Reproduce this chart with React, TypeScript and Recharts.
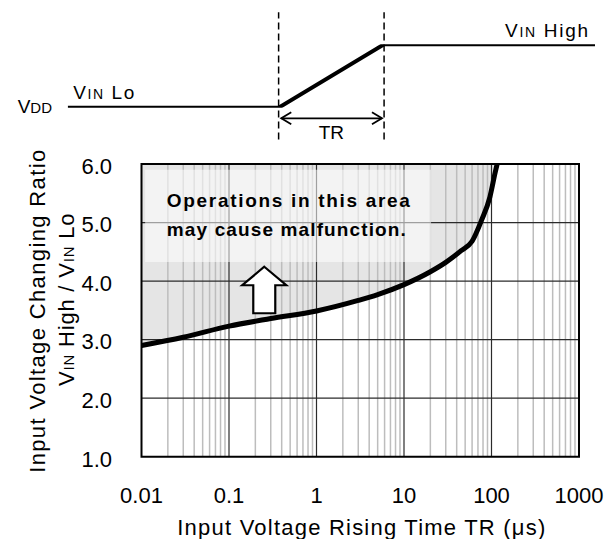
import React from "react";
import {
  ComposedChart,
  LineChart,
  Line,
  Area,
  XAxis,
  YAxis,
  ReferenceLine,
  ReferenceArea,
  ReferenceDot
} from "recharts";

// curve: input voltage rising time (us) vs. allowed VIN High / VIN Lo ratio
const TR_US = [0.01, 0.03, 0.1, 0.3, 1, 3, 5, 10, 20, 30, 45, 60, 77, 96, 110, 116];
const RATIO = [2.9, 3.04, 3.23, 3.36, 3.49, 3.67, 3.77, 3.94, 4.16, 4.32, 4.52, 4.68, 5.04, 5.44, 5.85, 6.0];

const X_TICKS = [0.01, 0.1, 1, 10, 100, 1000];
const Y_TICKS = [1, 2, 3, 4, 5, 6];
const DECADES = [0.01, 0.1, 1, 10, 100];
const MINOR_STEPS = [2, 3, 4, 5, 6, 7, 8, 9];
const MAJOR_X = [0.1, 1, 10, 100];
const MAJOR_Y = [2, 3, 4, 5];

// timing diagram above the chart (arbitrary time units, 0 = low, 1 = high)
const WAVE_T = [0, 40, 60, 100];
const WAVE_LEVEL = [0, 0, 1, 1];
const EDGE_T = [40, 60];
const TR_ARROW_Y = -0.167;

const FONT = '"Liberation Sans", Arial, sans-serif';

const curveData = TR_US.map((tr, i) => ({ tr, ratio: RATIO[i], band: [RATIO[i], 6] }));
const waveData = WAVE_T.map((t, i) => ({ t, v: WAVE_LEVEL[i] }));
const minorX = DECADES.flatMap((d) => MINOR_STEPS.map((k) => Number((d * k).toPrecision(3))));

const renderXTitle = (props: any) => {
  const vb = props.viewBox || { x: 141.5, y: 456.7, width: 437.5, height: 82.3 };
  const cx = vb.x + vb.width / 2 + 1;
  return (
    <text
      x={cx}
      y={vb.y + 78.5}
      textAnchor="middle"
      fontFamily={FONT}
      fontSize={22}
      fill="#000"
      textLength={368}
      lengthAdjust="spacing"
    >
      Input Voltage Rising Time TR (μs)
    </text>
  );
};

const renderYTitle = (props: any) => {
  const vb = props.viewBox || { x: 0, y: 164, width: 141.5, height: 292.7 };
  const cy = vb.y + vb.height / 2;
  const x1 = vb.x + 37;
  const y1 = cy + 1;
  const x2 = vb.x + 66;
  const y2 = cy - 11;
  return (
    <g fontFamily={FONT} fill="#000">
      <text
        x={x1}
        y={y1}
        transform={`rotate(-90 ${x1} ${y1})`}
        textAnchor="middle"
        dy="0.36em"
        fontSize={22}
        textLength={323}
        lengthAdjust="spacing"
      >
        Input Voltage Changing Ratio
      </text>
      <text
        x={x2}
        y={y2}
        transform={`rotate(-90 ${x2} ${y2})`}
        textAnchor="middle"
        dy="0.36em"
        fontSize={22}
        letterSpacing={0.8}
      >
        V<tspan fontSize={15}>IN</tspan> High / V<tspan fontSize={15}>IN</tspan> Lo
      </text>
    </g>
  );
};

const renderBoxText = (props: any) => {
  const vb = props.viewBox || { x: 145, y: 170 };
  return (
    <g fontFamily={FONT} fontWeight="bold" fontSize={19} fill="#000">
      <text x={vb.x + 21.7} y={vb.y + 36.7} textLength={243} lengthAdjust="spacing">
        Operations in this area
      </text>
      <text x={vb.x + 21.7} y={vb.y + 66} textLength={239} lengthAdjust="spacing">
        may cause malfunction.
      </text>
    </g>
  );
};

const renderUpArrow = (props: any) => {
  const { cx, cy } = props;
  const pts = [
    [0, 0],
    [22, 18.5],
    [11, 18.5],
    [11, 46.5],
    [-11, 46.5],
    [-11, 18.5],
    [-22, 18.5]
  ]
    .map(([dx, dy]) => `${cx + dx},${cy + dy}`)
    .join(" ");
  return <polygon points={pts} fill="#fff" stroke="#000" strokeWidth={2.2} strokeLinejoin="miter" />;
};

const chevron = (dir: number) => (props: any) => {
  const { cx, cy } = props;
  const d = `M${cx + dir * 10},${cy - 6} L${cx},${cy} L${cx + dir * 10},${cy + 6}`;
  return <path d={d} fill="none" stroke="#000" strokeWidth={1.8} />;
};

const label = (content: React.ReactNode, dx: number, dy: number, anchor: string, len?: number) =>
  (props: any) => (
    <text
      x={props.cx + dx}
      y={props.cy + dy}
      textAnchor={anchor}
      fontFamily={FONT}
      fontSize={19}
      fill="#000"
      textLength={len}
      lengthAdjust={len ? "spacing" : undefined}
    >
      {content}
    </text>
  );

const TimingDiagram = () => (
  <LineChart
    width={608}
    height={164}
    data={waveData}
    margin={{ top: 44.3, right: 13, bottom: 56.3, left: 67.7 }}
  >
    <XAxis dataKey="t" type="number" domain={[0, 100]} hide allowDataOverflow />
    <YAxis type="number" domain={[0, 1]} hide allowDataOverflow />
    {EDGE_T.map((t) => (
      <ReferenceLine
        key={t}
        segment={[{ x: t, y: -0.5 }, { x: t, y: 1.505 }]}
        stroke="#000"
        strokeWidth={1.5}
        strokeDasharray="7 4"
        ifOverflow="visible"
      />
    ))}
    <Line
      dataKey="v"
      type="linear"
      stroke="#000"
      strokeWidth={4}
      dot={false}
      isAnimationActive={false}
    />
    <ReferenceLine
      segment={[{ x: 40.5, y: TR_ARROW_Y }, { x: 59.6, y: TR_ARROW_Y }]}
      stroke="#000"
      strokeWidth={1.8}
      ifOverflow="visible"
    />
    <ReferenceDot x={40.5} y={TR_ARROW_Y} r={0} ifOverflow="visible" shape={chevron(1)} />
    <ReferenceDot x={59.6} y={TR_ARROW_Y} r={0} ifOverflow="visible" shape={chevron(-1)} />
    <ReferenceDot
      x={50}
      y={TR_ARROW_Y}
      r={0}
      ifOverflow="visible"
      shape={label("TR", 0, 21, "middle")}
    />
    <ReferenceDot
      x={0}
      y={0}
      r={0}
      ifOverflow="visible"
      shape={label(<>V<tspan fontSize={15}>DD</tspan></>, -15.7, 5, "end")}
    />
    <ReferenceDot
      x={0}
      y={0}
      r={0}
      ifOverflow="visible"
      shape={label(<>V<tspan fontSize={14}>IN</tspan> Lo</>, 5.6, -8.4, "start", 61)}
    />
    <ReferenceDot
      x={100}
      y={1}
      r={0}
      ifOverflow="visible"
      shape={label(<>V<tspan fontSize={14}>IN</tspan> High</>, -7, -7.6, "end", 83)}
    />
  </LineChart>
);

const MalfunctionChart = () => (
  <ComposedChart
    width={608}
    height={539}
    data={curveData}
    margin={{ top: 164, right: 29, bottom: 0, left: 0 }}
  >
    <XAxis
      dataKey="tr"
      type="number"
      scale="log"
      domain={[0.01, 1000]}
      ticks={X_TICKS}
      interval={0}
      allowDataOverflow
      axisLine={false}
      tickLine={false}
      tickSize={0}
      tickMargin={31}
      height={82.3}
      tick={{ fontSize: 22, fill: "#000", fontFamily: FONT }}
      label={renderXTitle}
    />
    <YAxis
      type="number"
      domain={[1, 6]}
      ticks={Y_TICKS}
      interval={0}
      allowDataOverflow
      axisLine={false}
      tickLine={false}
      tickSize={0}
      tickMargin={29.5}
      width={141.5}
      tickFormatter={(v: number) => v.toFixed(1)}
      tick={{ fontSize: 22, fill: "#000", fontFamily: FONT, dy: 2 }}
      label={renderYTitle}
    />
    <Area
      dataKey="band"
      type="monotone"
      fill="#e5e5e5"
      fillOpacity={1}
      stroke="none"
      isAnimationActive={false}
      zIndex={100}
    />
    {minorX.map((v) => (
      <ReferenceLine key={`m${v}`} x={v} stroke="#bdbdbd" strokeWidth={1.5} zIndex={110} />
    ))}
    {MAJOR_X.map((v) => (
      <ReferenceLine key={`x${v}`} x={v} stroke="#2b2b2b" strokeWidth={1.2} zIndex={120} />
    ))}
    {MAJOR_Y.map((v) => (
      <ReferenceLine key={`y${v}`} y={v} stroke="#2b2b2b" strokeWidth={1.2} zIndex={120} />
    ))}
    <ReferenceArea
      x1={0.011}
      x2={20.4}
      y1={4.325}
      y2={5.9}
      fill="#ffffff"
      fillOpacity={0.55}
      stroke="none"
      zIndex={130}
      label={renderBoxText}
    />
    <Line
      dataKey="ratio"
      type="monotone"
      stroke="#000"
      strokeWidth={5}
      dot={false}
      activeDot={false}
      isAnimationActive={false}
      zIndex={400}
    />
    <ReferenceDot x={0.253} y={4.245} r={0} shape={renderUpArrow} zIndex={450} />
    <ReferenceArea
      x1={0.01}
      x2={1000}
      y1={1}
      y2={6}
      fill="none"
      fillOpacity={0}
      stroke="#000"
      strokeWidth={2}
      zIndex={460}
    />
  </ComposedChart>
);

export default function App() {
  return (
    <div style={{ position: "absolute", left: 0, top: 0, width: 608, height: 539, background: "#fff" }}>
      <div style={{ position: "absolute", left: 0, top: 0 }}>
        <MalfunctionChart />
      </div>
      <div style={{ position: "absolute", left: 0, top: 0 }}>
        <TimingDiagram />
      </div>
    </div>
  );
}
